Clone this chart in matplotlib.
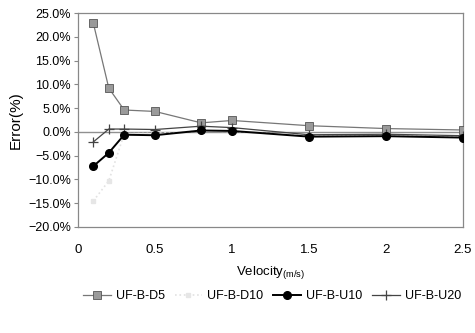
import matplotlib
matplotlib.use("Agg")
import matplotlib.pyplot as plt
from matplotlib.ticker import FuncFormatter

plt.rcParams['font.family'] = ['Liberation Sans', 'DejaVu Sans']

velocity = [0.1, 0.2, 0.3, 0.5, 0.8, 1.0, 1.5, 2.0, 2.5]
d5 = [22.8, 9.2, 4.6, 4.3, 1.9, 2.4, 1.3, 0.7, 0.4]
d10 = [-14.5, -10.3, -0.4, -0.3, 0.2, 0.1, -0.8, -0.7, -1.0]
u10 = [-7.2, -4.4, -0.6, -0.7, 0.3, 0.2, -1.0, -0.9, -1.2]
u20 = [-2.1, 0.6, 0.6, 0.5, 1.2, 0.9, -0.6, -0.5, -0.8]
names = ['UF-B-D5', 'UF-B-D10', 'UF-B-U10', 'UF-B-U20']

fig = plt.figure(figsize=(4.75, 3.33), dpi=100)
ax = fig.add_axes([78/475, 1-227/333, 385/475, 214/333])

ax.axhline(0, color='#909090', lw=1, zorder=1)
ax.plot(velocity, d5, color='#777777', lw=0.9, marker='s', ms=6,
        mfc='#9a9a9a', mec='#555555', mew=0.6, label=names[0], zorder=3)
ax.plot(velocity, d10, color='#e2e2e2', lw=1.2, ls=':', marker='s', ms=3,
        mfc='#e6e6e6', mec='#e6e6e6', label=names[1], zorder=2)
ax.plot(velocity, u10, color='black', lw=1.4, marker='o', ms=5.5,
        mfc='black', mec='black', label=names[2], zorder=4)
ax.plot(velocity, u20, color='#444444', lw=0.9, marker='+', ms=7,
        mew=0.9, label=names[3], zorder=3)

ax.set_xlim(0, 2.5)
ax.set_ylim(-20, 25)
ax.set_yticks(range(-20, 26, 5))
ax.yaxis.set_major_formatter(
    FuncFormatter(lambda v, p: f"{v:.1f}%".replace('-', '\u2212')))
ax.set_xticks([0, 0.5, 1, 1.5, 2, 2.5])
ax.set_xticklabels(['0', '0.5', '1', '1.5', '2', '2.5'])
ax.tick_params(axis='x', length=0, pad=12, labelsize=9.5)
ax.tick_params(axis='y', length=3, direction='out', color='#888888',
               labelsize=9, pad=2)
for s in ax.spines.values():
    s.set_color('#888888')
    s.set_linewidth(0.9)

ax.set_ylabel('Error(%)', fontsize=11, labelpad=4)
ax.set_xlabel('Velocity$\\mathregular{_{(m/s)}}$', fontsize=9.5, labelpad=6)

fig.legend(loc='center', bbox_to_anchor=(272/475, 1-296/333), ncol=4,
           frameon=False, fontsize=9, handlelength=2.2, handletextpad=0.4,
           columnspacing=0.8)

fig.savefig('out.png', dpi=100)
